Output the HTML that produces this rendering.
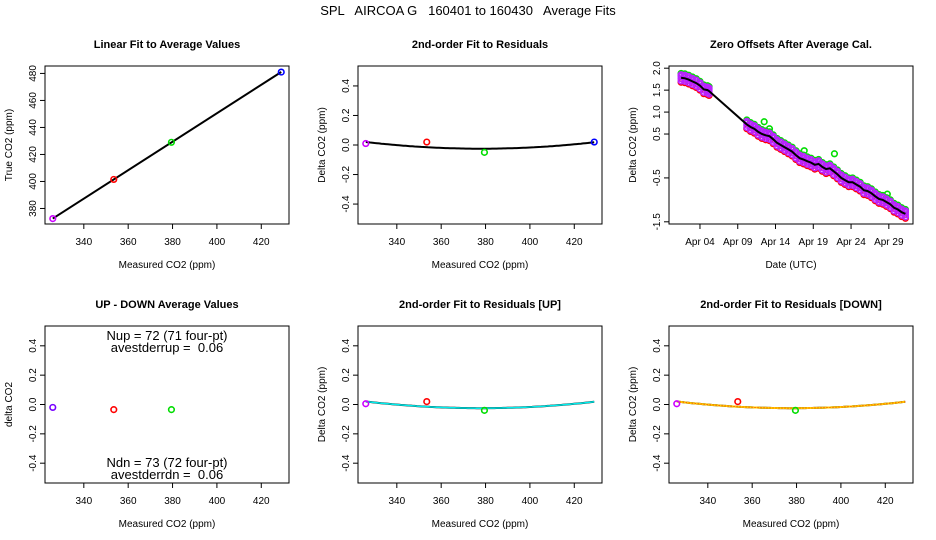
<!DOCTYPE html>
<html><head><meta charset="utf-8">
<style>
html,body{margin:0;padding:0;background:#fff;}
svg{display:block;font-family:"Liberation Sans",Arial,sans-serif;}
</style></head>
<body>
<svg id="chart" width="936" height="540" viewBox="0 0 936 540" xmlns="http://www.w3.org/2000/svg">
<rect width="936" height="540" fill="#fff"/>
<text x="468" y="15" text-anchor="middle" font-size="13" style="white-space:pre" xml:space="preserve">SPL   AIRCOA G   160401 to 160430   Average Fits</text>
</svg>
<script>
// ---- data ----
const measured = [326, 353.5, 379.5, 429];
const trueVals = [372.5, 401.5, 429, 481];
const pointColors = ["#cc00ff", "#ff0000", "#00dd00", "#0000ff"];
const residuals = [0.01, 0.02, -0.05, 0.02];
const fitCoef = [-0.025, 378, 0.0000168]; // min, vertex, curvature
const udMeasured = [326, 353.5, 379.5];
const udValues = [-0.02, -0.035, -0.035];
const upResiduals = [0.005, 0.02, -0.04];
const dnResiduals = [0.005, 0.02, -0.04];
const zeroTimes = [1.5,2,2.5,3,3.5,4,4.5,5,5.2,10.2,10.7,11.2,11.7,12.2,12.7,13.2,13.7,14.2,14.7,15.2,15.7,16.2,16.7,17.2,17.7,18.2,18.7,19.2,19.7,20.2,20.7,21.2,21.7,22.2,22.7,23.2,23.7,24.2,24.7,25.2,25.7,26.2,26.7,27.2,27.7,28.2,28.7,29.2,29.7,30.2,30.7,31.2];
const zeroMean = [1.78,1.77,1.74,1.70,1.66,1.60,1.52,1.50,1.48,0.72,0.66,0.62,0.55,0.50,0.47,0.45,0.38,0.30,0.25,0.20,0.15,0.10,0.02,-0.05,-0.08,-0.12,-0.15,-0.20,-0.18,-0.25,-0.30,-0.28,-0.35,-0.42,-0.50,-0.55,-0.60,-0.60,-0.65,-0.70,-0.78,-0.80,-0.85,-0.92,-0.98,-1.00,-1.05,-1.10,-1.18,-1.22,-1.28,-1.32];
const seriesOffsets = [0.07, -0.1, 0.1]; // blue, red, green
const purpleOffsets = [-0.07, -0.02, 0.03, 0.07];
const greenOutlierT = [12.5, 13.2, 17.8, 21.8, 28.8];
const greenOutlierV = [0.78, 0.62, 0.12, 0.05, -0.87];
const xTicksCO2 = [340, 360, 380, 400, 420];
const yTicksTrue = [380, 400, 420, 440, 460, 480];
const yTicksRes = [-0.4, -0.2, 0.0, 0.2, 0.4];
const yTicksZero = [2.0, 1.5, 1.0, 0.5, -0.5, -1.5];
const dayTicks = [4, 9, 14, 19, 24, 29];
const dayLabels = ["Apr 04","Apr 09","Apr 14","Apr 19","Apr 24","Apr 29"];

const svg = document.getElementById('chart');
const NS = "http://www.w3.org/2000/svg";
function mk(tag, attrs, parent){
  const e = document.createElementNS(NS, tag);
  for (const k in attrs) e.setAttribute(k, attrs[k]);
  (parent||svg).appendChild(e); return e;
}
function panel(o){
  const g = mk('g', {});
  
  
  const sx = v => o.bx + (v - o.xd[0]) / (o.xd[1] - o.xd[0]) * o.bw;
  const sy = v => o.by + o.bh - (v - o.yd[0]) / (o.yd[1] - o.yd[0]) * o.bh;
  const box = mk('rect', {x:o.bx, y:o.by, width:o.bw, height:o.bh, fill:'none', stroke:'#000', 'stroke-width':1}, g);
  
  
  const t = mk('text', {x:o.bx + o.bw/2, y:o.by - 18, 'text-anchor':'middle', 'font-size':11, 'font-weight':'bold'}, g);
  t.textContent = o.title;
  
  
  o.xt.forEach((v, i) => {
    const x = sx(v);
    mk('line', {x1:x, x2:x, y1:o.by+o.bh, y2:o.by+o.bh+5, stroke:'#000'}, g);
    const l = mk('text', {x:x, y:o.by+o.bh+21, 'text-anchor':'middle', 'font-size':10}, g);
    l.textContent = o.xl ? o.xl[i] : v;
    
    
  });
  o.yt.forEach(v => {
    const y = sy(v);
    mk('line', {x1:o.bx-5, x2:o.bx, y1:y, y2:y, stroke:'#000'}, g);
    const l = mk('text', {x:0, y:0, 'text-anchor':'middle', 'font-size':10, transform:`translate(${o.bx-9},${y}) rotate(-90)`}, g);
    l.textContent = o.ytf ? o.ytf(v) : v;
    
    
  });
  const xt = mk('text', {x:o.bx+o.bw/2, y:o.by+o.bh+44, 'text-anchor':'middle', 'font-size':10}, g);
  xt.textContent = o.xlab;
  
  
  const yt = mk('text', {x:0, y:0, 'text-anchor':'middle', 'font-size':10, transform:`translate(${o.bx-33},${o.by+o.bh/2}) rotate(-90)`}, g);
  yt.textContent = o.ylab;
  
  
  return {g, sx, sy};
}
function pt(g, x, y, c, name){
  const p = mk('circle', {cx:x, cy:y, r:2.8, fill:'none', stroke:c, 'stroke-width':1.6}, g);
  
  
}
const f2 = v => v.toFixed(1);
const curve = x => fitCoef[0] + fitCoef[2] * (x - fitCoef[1]) ** 2;
function curvePath(sx, sy){
  let d = '';
  for (let x = 326; x <= 429; x += 1) d += (d ? 'L' : 'M') + sx(x).toFixed(1) + ',' + sy(curve(x)).toFixed(1);
  return d;
}

// Panel 1
{
  const P = panel({name:'linear-fit-panel', bx:45, by:66, bw:244, bh:158, xd:[322.5,432.5], yd:[368.5,485.5],
    xt:xTicksCO2, yt:yTicksTrue, title:'Linear Fit to Average Values', xlab:'Measured CO2 (ppm)', ylab:'True CO2 (ppm)'});
  const n = measured.length;
  const mx = measured.reduce((a,b)=>a+b)/n, my = trueVals.reduce((a,b)=>a+b)/n;
  let sxy=0, sxx=0; measured.forEach((x,i)=>{sxy+=(x-mx)*(trueVals[i]-my); sxx+=(x-mx)**2;});
  const b = sxy/sxx, a = my - b*mx;
  const ln = mk('line', {x1:P.sx(326), y1:P.sy(a+b*326), x2:P.sx(429), y2:P.sy(a+b*429), stroke:'#000', 'stroke-width':2}, P.g);
  
  
  measured.forEach((x,i) => pt(P.g, P.sx(x), P.sy(trueVals[i]), pointColors[i], 'data-point'));
}
// Panel 2
{
  const P = panel({name:'residual-fit-panel', bx:358, by:66, bw:244, bh:158, xd:[322.5,432.5], yd:[-0.535,0.535],
    xt:xTicksCO2, yt:yTicksRes, ytf:f2, title:'2nd-order Fit to Residuals', xlab:'Measured CO2 (ppm)', ylab:'Delta CO2 (ppm)'});
  const c = mk('path', {d:curvePath(P.sx,P.sy), fill:'none', stroke:'#000', 'stroke-width':2}, P.g);
  
  
  measured.forEach((x,i) => pt(P.g, P.sx(x), P.sy(residuals[i]), pointColors[i], 'residual-point'));
}
// Panel 3
{
  const P = panel({name:'zero-offsets-panel', bx:669, by:66, bw:244, bh:158, xd:[-0.1,32.2], yd:[-1.55,2.05],
    xt:dayTicks, xl:dayLabels, yt:yTicksZero, ytf:f2, title:'Zero Offsets After Average Cal.', xlab:'Date (UTC)', ylab:'Delta CO2 (ppm)'});
  const cols = ['#0000ff', '#ff0000', '#00dd00'];
  seriesOffsets.forEach((off, s) => {
    zeroTimes.forEach((t, i) => pt(P.g, P.sx(t), P.sy(zeroMean[i] + off), cols[s], 'zero-point'));
  });
  greenOutlierT.forEach((t, i) => pt(P.g, P.sx(t), P.sy(greenOutlierV[i]), '#00dd00', 'zero-outlier'));
  purpleOffsets.forEach(off => {
    zeroTimes.forEach((t, i) => pt(P.g, P.sx(t), P.sy(zeroMean[i] + off), '#bb22ff', 'zero-point'));
  });
  let d = '';
  zeroTimes.forEach((t, i) => d += (i ? 'L' : 'M') + P.sx(t).toFixed(1) + ',' + P.sy(zeroMean[i]).toFixed(1));
  const l = mk('path', {d, fill:'none', stroke:'#000', 'stroke-width':2}, P.g);
  
  
}
// Panel 4
{
  const P = panel({name:'up-down-panel', bx:45, by:326, bw:244, bh:157, xd:[322.5,432.5], yd:[-0.535,0.535],
    xt:xTicksCO2, yt:yTicksRes, ytf:f2, title:'UP - DOWN Average Values', xlab:'Measured CO2 (ppm)', ylab:'delta CO2'});
  const cc = ['#7700ff', '#ff0000', '#00dd00'];
  udMeasured.forEach((x,i) => pt(P.g, P.sx(x), P.sy(udValues[i]), cc[i], 'up-down-point'));
  const lines = [['Nup = 72 (71 four-pt)', 340], ['avestderrup =  0.06', 352], ['Ndn = 73 (72 four-pt)', 467], ['avestderrdn =  0.06', 479]];
  lines.forEach(([s, y]) => {
    const t = mk('text', {x:167, y:y, 'text-anchor':'middle', 'font-size':13, style:'white-space:pre'}, P.g);
    t.textContent = s;
    
    
  });
}
// Panel 5
{
  const P = panel({name:'up-residual-panel', bx:358, by:326, bw:244, bh:157, xd:[322.5,432.5], yd:[-0.535,0.535],
    xt:xTicksCO2, yt:yTicksRes, ytf:f2, title:'2nd-order Fit to Residuals [UP]', xlab:'Measured CO2 (ppm)', ylab:'Delta CO2 (ppm)'});
  const c = mk('path', {d:curvePath(P.sx,P.sy), fill:'none', stroke:'#000', 'stroke-width':2}, P.g);
  
  
  const c2 = mk('path', {d:curvePath(P.sx,P.sy), fill:'none', stroke:'#00eeee', 'stroke-width':1.5}, P.g);
  
  
  udMeasured.forEach((x,i) => pt(P.g, P.sx(x), P.sy(upResiduals[i]), pointColors[i], 'up-residual-point'));
}
// Panel 6
{
  const P = panel({name:'down-residual-panel', bx:669, by:326, bw:244, bh:157, xd:[322.5,432.5], yd:[-0.535,0.535],
    xt:xTicksCO2, yt:yTicksRes, ytf:f2, title:'2nd-order Fit to Residuals [DOWN]', xlab:'Measured CO2 (ppm)', ylab:'Delta CO2 (ppm)'});
  const c = mk('path', {d:curvePath(P.sx,P.sy), fill:'none', stroke:'#000', 'stroke-width':2}, P.g);
  
  
  const c2 = mk('path', {d:curvePath(P.sx,P.sy), fill:'none', stroke:'#ffcc00', 'stroke-width':2}, P.g);
  
  
  const c3 = mk('path', {d:curvePath(P.sx,P.sy), fill:'none', stroke:'#ff3300', 'stroke-width':1, 'stroke-dasharray':'1,2'}, P.g);
  
  
  udMeasured.forEach((x,i) => pt(P.g, P.sx(x), P.sy(dnResiduals[i]), pointColors[i], 'down-residual-point'));
}
</script>
</body></html>
